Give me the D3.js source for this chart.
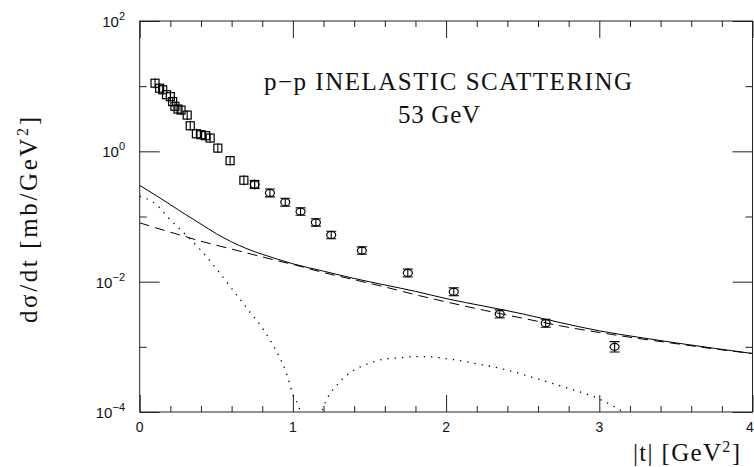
<!DOCTYPE html>
<html>
<head>
<meta charset="utf-8">
<script src="https://cdn.jsdelivr.net/npm/d3@7"></script>
<style>
  body { margin: 0; background: #fff; }
  svg { display: block; }
</style>
</head>
<body>
<div id="chart"></div>
<script>
// Data
const sqT   = [0.10, 0.13, 0.15, 0.175, 0.20, 0.215, 0.23, 0.25, 0.27, 0.31, 0.33, 0.37, 0.40, 0.43, 0.46, 0.51, 0.59, 0.68, 0.75];
const sqV   = [11.1, 9.3, 8.8, 7.4, 6.9, 5.8, 4.9, 4.45, 4.3, 3.6, 2.47, 1.86, 1.80, 1.74, 1.60, 1.12, 0.72, 0.36, 0.31];
const sqErr = [0.19, 0.19, 0.19, 0.19, 0.19, 0.19, 0.19, 0.19, 0.19, 0.19, 0.19, 0.19, 0.19, 0.19, 0.19, 0.19, 0.19, 0.19, 0.19];

const ciT   = [0.75, 0.85, 0.95, 1.05, 1.15, 1.25, 1.45, 1.75, 2.05, 2.35, 2.65, 3.10];
const ciV   = [0.31, 0.23, 0.166, 0.119, 0.081, 0.052, 0.030, 0.0136, 0.0070, 0.0032, 0.0023, 0.00100];
const ciErr = [0.15, 0.15, 0.15, 0.14, 0.14, 0.14, 0.14, 0.15, 0.15, 0.15, 0.15, 0.20];

const lineT  = [0, 0.1, 0.2, 0.3, 0.4, 0.5, 0.6, 0.7, 0.8, 0.9, 1.0, 1.2, 1.4, 1.6, 1.8, 2.0, 2.25, 2.5, 2.75, 3.0, 3.25, 3.5, 3.75, 4.0];
const solidV = [0.30, 0.215, 0.152, 0.107, 0.0765, 0.0545, 0.0408, 0.0320, 0.0263, 0.0221, 0.0188, 0.0145, 0.0112, 0.0089, 0.0071, 0.0055, 0.0042, 0.0032, 0.00234, 0.00176, 0.00141, 0.00115, 0.00095, 0.00079];
const dashV  = [0.080, 0.0676, 0.0575, 0.0490, 0.0417, 0.0363, 0.0316, 0.0275, 0.0240, 0.0209, 0.0184, 0.0138, 0.0107, 0.0083, 0.0063, 0.0049, 0.00363, 0.00275, 0.00209, 0.00166, 0.00135, 0.00112, 0.00093, 0.00079];

const dotT = [0, 0.1, 0.2, 0.3, 0.4, 0.5, 0.6, 0.7, 0.8, 0.9, 0.95, 1.0, 1.05, 1.1, 1.15, 1.2, 1.3, 1.4, 1.5, 1.6, 1.7, 1.8, 1.9, 2.0, 2.2, 2.4, 2.6, 2.8, 3.0, 3.1, 3.2];
const dotV = [0.204, 0.158, 0.089, 0.0525, 0.0302, 0.0158, 0.0079, 0.0039, 0.00195, 0.00079, 0.00044, 0.000186, 0.000095, 0.00001, 0.00005, 0.00012, 0.00028, 0.00044, 0.00056, 0.00065, 0.00068, 0.00071, 0.00070, 0.00066, 0.00055, 0.00044, 0.00032, 0.00023, 0.000158, 0.00012, 0.000087];

const xTickLabels = ['0', '1', '2', '3', '4'];
const yTickExps = [2, 0, -2, -4];

const width = 754, height = 467;
const margin = { left: 139.7, right: 1.5, top: 21, bottom: 55 };

const svg = d3.select('#chart').append('svg')
    .attr('width', width)
    .attr('height', height);

const x = d3.scaleLinear()
    .domain([0, 4])
    .range([margin.left, width - margin.right]);

const y = d3.scaleLog()
    .domain([1e-4, 1e2])
    .range([height - margin.bottom, margin.top]);

const [x0, x1] = x.range();
const [y0, y1] = y.range();

svg.append('clipPath').attr('id', 'plot')
  .append('rect')
    .attr('x', x0).attr('y', y1)
    .attr('width', x1 - x0).attr('height', y0 - y1);

// Axes with inward ticks, on all four sides
const minorX = d3.range(0, 4.001, 0.2).filter(d => Math.abs(d - Math.round(d)) > 1e-6);
const majorX = xTickLabels.map(Number);
const evenY = yTickExps.map(e => Math.pow(10, e));
const oddY = [1e1, 1e-1, 1e-3];

const axisStyle = g => {
  g.select('.domain').remove();
  g.selectAll('.tick line').attr('stroke', '#222').attr('stroke-width', 1);
  g.selectAll('.tick text').remove();
};

svg.append('g').attr('transform', `translate(0,${y0})`)
    .call(d3.axisBottom(x).tickValues(majorX).tickSize(-17)).call(axisStyle);
svg.append('g').attr('transform', `translate(0,${y0})`)
    .call(d3.axisBottom(x).tickValues(minorX).tickSize(-6)).call(axisStyle);
svg.append('g').attr('transform', `translate(0,${y1})`)
    .call(d3.axisTop(x).tickValues(majorX).tickSize(-17)).call(axisStyle);
svg.append('g').attr('transform', `translate(0,${y1})`)
    .call(d3.axisTop(x).tickValues(minorX).tickSize(-6)).call(axisStyle);

svg.append('g').attr('transform', `translate(${x0},0)`)
    .call(d3.axisLeft(y).tickValues(evenY).tickSize(-20)).call(axisStyle);
svg.append('g').attr('transform', `translate(${x0},0)`)
    .call(d3.axisLeft(y).tickValues(oddY).tickSize(-7)).call(axisStyle);
svg.append('g').attr('transform', `translate(${x1},0)`)
    .call(d3.axisRight(y).tickValues(evenY).tickSize(-20)).call(axisStyle);
svg.append('g').attr('transform', `translate(${x1},0)`)
    .call(d3.axisRight(y).tickValues(oddY).tickSize(-7)).call(axisStyle);

// frame
svg.append('rect')
    .attr('x', x0).attr('y', y1)
    .attr('width', x1 - x0).attr('height', y0 - y1)
    .attr('fill', 'none')
    .attr('stroke', '#222')
    .attr('stroke-width', 1);

// tick labels
svg.append('g').selectAll('text')
  .data(xTickLabels)
  .enter().append('text')
    .attr('x', d => Math.min(x(+d), 750))
    .attr('y', y0 + 20)
    .attr('text-anchor', 'middle')
    .attr('font-family', 'Liberation Sans, Arial, sans-serif')
    .attr('font-size', 14)
    .attr('fill', '#111')
    .text(d => d);

const yLab = svg.append('g').selectAll('text')
  .data(yTickExps)
  .enter().append('text')
    .attr('x', 125)
    .attr('y', d => y(Math.pow(10, d)) + 6)
    .attr('text-anchor', 'end')
    .attr('font-family', 'Liberation Sans, Arial, sans-serif')
    .attr('font-size', 15)
    .attr('fill', '#111');
yLab.append('tspan').text('10');
yLab.append('tspan')
    .attr('dy', -7)
    .attr('font-size', 11)
    .text(d => d < 0 ? '\u2212' + Math.abs(d) : String(d));

// curves
const plot = svg.append('g').attr('clip-path', 'url(#plot)');

const line = d3.line()
    .x(d => x(d[0]))
    .y(d => y(d[1]))
    .curve(d3.curveMonotoneX);

plot.append('path')
    .datum(lineT.map((t, i) => [t, solidV[i]]))
    .attr('d', line)
    .attr('fill', 'none')
    .attr('stroke', '#000')
    .attr('stroke-width', 1);

plot.append('path')
    .datum(lineT.map((t, i) => [t, dashV[i]]))
    .attr('d', line)
    .attr('fill', 'none')
    .attr('stroke', '#000')
    .attr('stroke-width', 1)
    .attr('stroke-dasharray', '10,6');

plot.append('path')
    .datum(dotT.map((t, i) => [t, dotV[i]]))
    .attr('d', line)
    .attr('fill', 'none')
    .attr('stroke', '#000')
    .attr('stroke-width', 1.3)
    .attr('stroke-dasharray', '1.3,6');

// square points with error bars
const sq = plot.append('g').selectAll('g')
  .data(sqT.map((t, i) => ({ t, v: sqV[i], e: sqErr[i] })))
  .enter().append('g');
sq.append('line')
    .attr('x1', d => x(d.t)).attr('x2', d => x(d.t))
    .attr('y1', d => y(d.v * (1 + d.e))).attr('y2', d => y(d.v / (1 + d.e)))
    .attr('stroke', '#000').attr('stroke-width', 1.1);
sq.append('rect')
    .attr('x', d => x(d.t) - 4).attr('y', d => y(d.v) - 4)
    .attr('width', 8).attr('height', 8)
    .attr('fill', 'none')
    .attr('stroke', '#000').attr('stroke-width', 1.2);

// circle points with capped error bars
const ci = plot.append('g').selectAll('g')
  .data(ciT.map((t, i) => ({ t, v: ciV[i], e: ciErr[i] })))
  .enter().append('g');
ci.append('line')
    .attr('x1', d => x(d.t)).attr('x2', d => x(d.t))
    .attr('y1', d => y(d.v * (1 + d.e))).attr('y2', d => y(d.v / (1 + d.e)))
    .attr('stroke', '#000').attr('stroke-width', 1.1);
ci.append('line')
    .attr('x1', d => x(d.t) - 5).attr('x2', d => x(d.t) + 5)
    .attr('y1', d => y(d.v * (1 + d.e))).attr('y2', d => y(d.v * (1 + d.e)))
    .attr('stroke', '#000').attr('stroke-width', 1.1);
ci.append('line')
    .attr('x1', d => x(d.t) - 5).attr('x2', d => x(d.t) + 5)
    .attr('y1', d => y(d.v / (1 + d.e))).attr('y2', d => y(d.v / (1 + d.e)))
    .attr('stroke', '#000').attr('stroke-width', 1.1);
ci.append('ellipse')
    .attr('cx', d => x(d.t)).attr('cy', d => y(d.v))
    .attr('rx', 4.5).attr('ry', 3.5)
    .attr('fill', 'none')
    .attr('stroke', '#000').attr('stroke-width', 1.2);

// titles
const serif = 'Liberation Serif, Times New Roman, serif';

svg.append('text')
    .attr('x', 264).attr('y', 90)
    .attr('font-family', serif)
    .attr('font-size', 25)
    .attr('textLength', 368)
    .attr('lengthAdjust', 'spacing')
    .attr('fill', '#111')
    .text('p\u2212p INELASTIC SCATTERING');

svg.append('text')
    .attr('x', 398).attr('y', 123)
    .attr('font-family', serif)
    .attr('font-size', 25)
    .attr('textLength', 82)
    .attr('lengthAdjust', 'spacing')
    .attr('fill', '#111')
    .text('53 GeV');

const xt = svg.append('text')
    .attr('x', 633).attr('y', 461)
    .attr('font-family', serif)
    .attr('font-size', 25)
    .attr('textLength', 107)
    .attr('lengthAdjust', 'spacing')
    .attr('fill', '#111');
xt.append('tspan').text('|t|  [GeV');
xt.append('tspan').attr('dy', -9).attr('font-size', 16).text('2');
xt.append('tspan').attr('dy', 9).text(']');

const yt = svg.append('text')
    .attr('transform', 'translate(37,323) rotate(-90)')
    .attr('font-family', serif)
    .attr('font-size', 25)
    .attr('textLength', 206)
    .attr('lengthAdjust', 'spacing')
    .attr('fill', '#111');
yt.append('tspan').text('d\u03c3/dt  [mb/GeV');
yt.append('tspan').attr('dy', -9).attr('font-size', 16).text('2');
yt.append('tspan').attr('dy', 9).text(']');
</script>
</body>
</html>
